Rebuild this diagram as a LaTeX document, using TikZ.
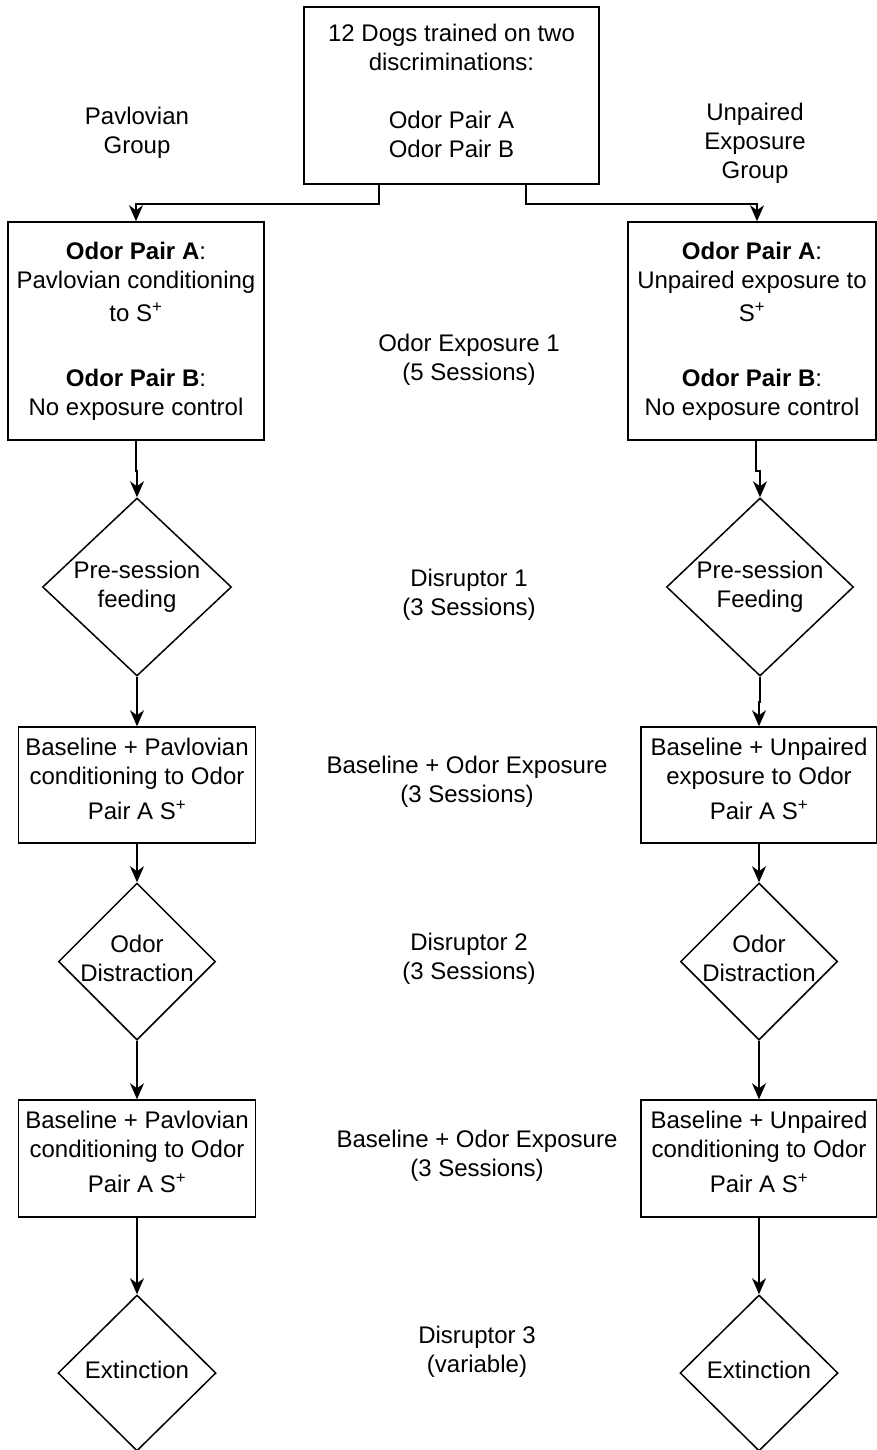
\documentclass[tikz,border=0pt]{standalone}
\usepackage{fontspec}
\setmainfont{Liberation Sans}
\usetikzlibrary{shapes.geometric,arrows.meta}
\newcommand{\dtext}[1]{\makebox[0pt]{\begin{tabular}{@{}c@{}}#1\end{tabular}}}
\newcommand{\Splus}{S\textsuperscript{+}}
\begin{document}
\begin{tikzpicture}[x=1pt,y=-1pt,font=\fontsize{24}{29}\selectfont,line width=1.5pt,
  box/.style={draw,rectangle,align=center,inner sep=0pt},
  decision/.style={draw,diamond,inner sep=0pt},
  note/.style={align=center},
  flow/.style={-{Stealth[length=16pt,width=14pt,inset=5pt]}}]
\useasboundingbox (0,0) rectangle (877,1450);
\node[box,minimum width=295pt,minimum height=177pt,text depth=9pt] (top) at (451.5,95.5)
  {12 Dogs trained on two\\discriminations:\\[29pt]Odor Pair A\\Odor Pair B};
\node[note] (grpL) at (137,132.5) {Pavlovian\\Group};
\node[note] (grpR) at (755,143) {Unpaired\\Exposure\\Group};
\node[box,minimum width=256pt,minimum height=218pt] (b1L) at (136,331)
  {\textbf{Odor Pair A}:\\Pavlovian conditioning\\[4pt]to \Splus\\[36pt]\textbf{Odor Pair B}:\\No exposure control};
\node[box,minimum width=248pt,minimum height=218pt] (b1R) at (752,331)
  {\textbf{Odor Pair A}:\\Unpaired exposure to\\[4pt]\Splus\\[36pt]\textbf{Odor Pair B}:\\No exposure control};
\node[decision,minimum width=189pt,minimum height=178pt] (d1L) at (137,587) {\dtext{Pre-session\\feeding}};
\node[decision,minimum width=187pt,minimum height=178pt] (d1R) at (760,587) {\dtext{Pre-session\\Feeding}};
\node[box,minimum width=237pt,minimum height=116pt,text depth=13pt] (b2L) at (137,785)
  {Baseline + Pavlovian\\conditioning to Odor\\[6pt]Pair A \Splus};
\node[box,minimum width=236pt,minimum height=116pt,text depth=13pt] (b2R) at (759,785)
  {Baseline + Unpaired\\exposure to Odor\\[6pt]Pair A \Splus};
\node[decision,minimum width=157pt,minimum height=157pt] (d2L) at (137,961.5) {\dtext{Odor\\Distraction}};
\node[decision,minimum width=157pt,minimum height=157pt] (d2R) at (759,961.5) {\dtext{Odor\\Distraction}};
\node[box,minimum width=237pt,minimum height=117pt,text depth=13pt] (b3L) at (137,1158.5)
  {Baseline + Pavlovian\\conditioning to Odor\\[6pt]Pair A \Splus};
\node[box,minimum width=236pt,minimum height=117pt,text depth=13pt] (b3R) at (759,1158.5)
  {Baseline + Unpaired\\conditioning to Odor\\[6pt]Pair A \Splus};
\node[decision,minimum width=158pt,minimum height=156pt] (d3L) at (137,1373) {\dtext{Extinction}};
\node[decision,minimum width=158pt,minimum height=156pt] (d3R) at (759,1373) {\dtext{Extinction}};
\node[note] (ph1) at (469,359.5) {Odor Exposure 1\\(5 Sessions)};
\node[note] (ph2) at (469,594.5) {Disruptor 1\\(3 Sessions)};
\node[note] (ph3) at (467,782) {Baseline + Odor Exposure\\(3 Sessions)};
\node[note] (ph4) at (469,958.5) {Disruptor 2\\(3 Sessions)};
\node[note] (ph5) at (477,1155.5) {Baseline + Odor Exposure\\(3 Sessions)};
\node[note] (ph6) at (477,1351.5) {Disruptor 3\\(variable)};
\draw[flow] ([xshift=-72.5pt]top.south) -- ++(0,19) -| (b1L.north);
\draw[flow] ([xshift=74.5pt]top.south) -- ++(0,19) -| ([xshift=5pt]b1R.north);
\draw[flow] (b1L.south) -- ++(0,30) -| (d1L.north);
\draw[flow] ([xshift=4pt]b1R.south) -- ++(0,30) -| (d1R.north);
\draw[flow] (d1L.south) -- ++(0,25) -| (b2L.north);
\draw[flow] (d1R.south) -- ++(0,25) -| (b2R.north);
\draw[flow] (b2L.south) -- (d2L.north);
\draw[flow] (b2R.south) -- (d2R.north);
\draw[flow] (d2L.south) -- (b3L.north);
\draw[flow] (d2R.south) -- (b3R.north);
\draw[flow] (b3L.south) -- (d3L.north);
\draw[flow] (b3R.south) -- (d3R.north);
\end{tikzpicture}
\end{document}
